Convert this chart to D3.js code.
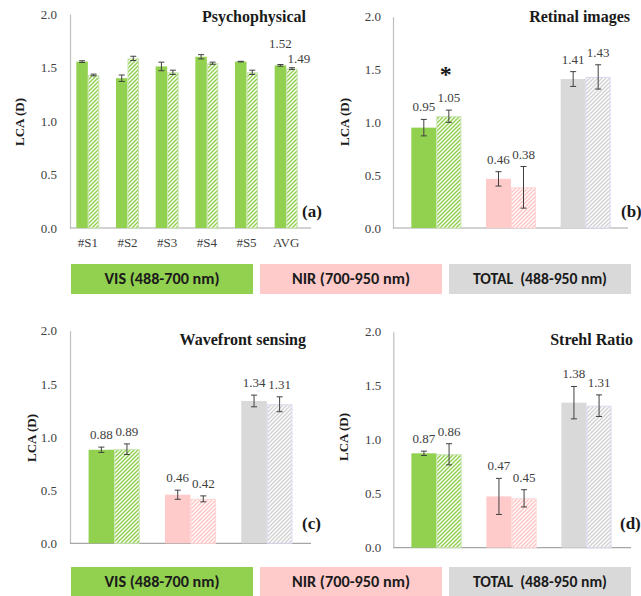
<!DOCTYPE html>
<html>
<head>
<meta charset="utf-8">
<script src="https://cdn.jsdelivr.net/npm/d3@7"></script>
<style>
  html, body { margin: 0; padding: 0; background: #fff; }
  svg { display: block; }
</style>
</head>
<body>
<svg id="chart" width="641" height="596"></svg>
<script>
// ---------- DATA ----------
const yTicks = [0, 0.5, 1.0, 1.5, 2.0];

// (a) Psychophysical
const psyCategories = ["#S1", "#S2", "#S3", "#S4", "#S5", "AVG"];
const psySolid      = [1.555, 1.40, 1.51, 1.60, 1.555, 1.52];
const psySolidErr   = [0.008, 0.03, 0.04, 0.02, 0.003, 0.008];
const psyHatch      = [1.43, 1.585, 1.455, 1.54, 1.455, 1.49];
const psyHatchErr   = [0.008, 0.02, 0.02, 0.01, 0.02, 0.008];
const psySolidLabels = ["", "", "", "", "", "1.52"];
const psyHatchLabels = ["", "", "", "", "", "1.49"];

// Spectral groups (b, c, d)
const groups = ["VIS", "NIR", "TOTAL"];

// (b) Retinal images
const retSolid     = [0.95, 0.465, 1.41];
const retSolidErr  = [0.078, 0.068, 0.07];
const retHatch     = [1.058, 0.385, 1.43];
const retHatchErr  = [0.058, 0.197, 0.115];
const retSolidLabels = ["0.95", "0.46", "1.41"];
const retHatchLabels = ["1.05", "0.38", "1.43"];

// (c) Wavefront sensing
const wfsSolid     = [0.88, 0.457, 1.339];
const wfsSolidErr  = [0.025, 0.043, 0.055];
const wfsHatch     = [0.885, 0.418, 1.308];
const wfsHatchErr  = [0.05, 0.028, 0.07];
const wfsSolidLabels = ["0.88", "0.46", "1.34"];
const wfsHatchLabels = ["0.89", "0.42", "1.31"];

// (d) Strehl Ratio
const srSolid      = [0.874, 0.475, 1.343];
const srSolidErr   = [0.02, 0.167, 0.15];
const srHatch      = [0.865, 0.457, 1.315];
const srHatchErr   = [0.098, 0.08, 0.1];
const srSolidLabels = ["0.87", "0.47", "1.38"];
const srHatchLabels = ["0.86", "0.45", "1.31"];

// Legend
const legendLabels = ["VIS (488-700 nm)", "NIR (700-950 nm)", "TOTAL  (488-950 nm)"];

// ---------- STYLE ----------
const groupColors  = { VIS: "#92D050", NIR: "#FFCACA", TOTAL: "#D9D9D9" };
const hatchLine    = { VIS: "#92D050", NIR: "#FFC4C4", TOTAL: "#D3D3D3" };
const hatchBorder  = { VIS: "#C6E3AE", NIR: "#FFD6D6", TOTAL: "#DADAF2" };
const SERIF = "'Liberation Serif', 'Times New Roman', serif";
const AXIS_COLOR = "#BFBFBF";
const TEXT_COLOR = "#404040";

const svg = d3.select("#chart");
const defs = svg.append("defs");

Object.keys(hatchLine).forEach(k => {
  const p = defs.append("pattern")
    .attr("id", "hatch-" + k)
    .attr("patternUnits", "userSpaceOnUse")
    .attr("width", 4).attr("height", 4);
  p.append("rect").attr("width", 4).attr("height", 4).attr("fill", "#fff");
  p.append("path")
    .attr("d", "M-1,1 L1,-1 M0,4 L4,0 M3,5 L5,3")
    .attr("stroke", hatchLine[k])
    .attr("stroke-width", 1.5);
});

function drawPanel(cfg) {
  const g = svg.append("g");
  const y = d3.scaleLinear().domain([0, 2]).range([cfg.y0, cfg.y2]);
  const x = d3.scaleBand().domain(cfg.categories).range(cfg.xRange)
    .paddingInner(cfg.pad).paddingOuter(cfg.pad / 2);
  const bw = x.bandwidth() / 2;

  // y axis
  const ax = g.append("g")
    .attr("transform", `translate(${cfg.axisX},0)`)
    .call(d3.axisLeft(y).tickValues(yTicks).tickFormat(d3.format(".1f"))
      .tickSize(0).tickSizeOuter(0).tickPadding(cfg.tickPad));
  ax.select(".domain").attr("stroke", AXIS_COLOR).attr("stroke-width", 1.2);
  ax.selectAll("text").attr("font-family", SERIF).attr("font-size", 13)
    .attr("fill", TEXT_COLOR);

  // baseline
  g.append("line")
    .attr("x1", cfg.axisX).attr("x2", cfg.baseEnd)
    .attr("y1", y(0)).attr("y2", y(0))
    .attr("stroke", "#A6A6A6").attr("stroke-width", 1.2);

  // bars
  const series = [
    { vals: cfg.solid, errs: cfg.solidErr, labels: cfg.solidLabels, off: 0, hatch: false },
    { vals: cfg.hatch, errs: cfg.hatchErr, labels: cfg.hatchLabels, off: 1, hatch: true }
  ];
  series.forEach(s => {
    cfg.categories.forEach((c, i) => {
      const key = cfg.colorKeys[i];
      const x0 = x(c) + s.off * bw;
      const v = s.vals[i];
      g.append("rect")
        .attr("x", x0 + (s.hatch ? 0.5 : 0))
        .attr("y", y(v) + (s.hatch ? 0.5 : 0))
        .attr("width", bw - (s.hatch ? 1 : 0))
        .attr("height", y(0) - y(v) - (s.hatch ? 0.5 : 0))
        .attr("fill", s.hatch ? `url(#hatch-${key})` : groupColors[key])
        .attr("stroke", s.hatch ? hatchBorder[key] : "none")
        .attr("stroke-width", 1);
      // error bar
      const cx = x0 + bw / 2;
      const e = s.errs[i];
      const eb = g.append("g").attr("stroke", "#404040").attr("stroke-width", 1);
      eb.append("line").attr("x1", cx).attr("x2", cx).attr("y1", y(v + e)).attr("y2", y(v - e));
      eb.append("line").attr("x1", cx - 3).attr("x2", cx + 3).attr("y1", y(v + e)).attr("y2", y(v + e));
      eb.append("line").attr("x1", cx - 3).attr("x2", cx + 3).attr("y1", y(v - e)).attr("y2", y(v - e));
      // label
      if (s.labels[i]) {
        const lo = cfg.labelOffset ? cfg.labelOffset[s.off] : { dx: 0, dy: -8 };
        g.append("text")
          .attr("x", cx + lo.dx)
          .attr("y", y(v + e) + lo.dy)
          .attr("text-anchor", "middle")
          .attr("font-family", SERIF).attr("font-size", 13)
          .attr("fill", TEXT_COLOR)
          .text(s.labels[i]);
      }
    });
  });

  // category labels
  if (cfg.showCats) {
    cfg.categories.forEach(c => {
      g.append("text")
        .attr("x", x(c) + x.bandwidth() / 2)
        .attr("y", y(0) + 19)
        .attr("text-anchor", "middle")
        .attr("font-family", SERIF).attr("font-size", 13)
        .attr("fill", TEXT_COLOR)
        .text(c);
    });
  }

  // title
  g.append("text")
    .attr("x", cfg.titleRight).attr("y", cfg.titleY)
    .attr("text-anchor", "end")
    .attr("font-family", SERIF).attr("font-size", 16).attr("font-weight", "bold")
    .attr("fill", "#1a1a1a")
    .text(cfg.title);

  // panel letter
  g.append("text")
    .attr("x", cfg.letterX).attr("y", cfg.letterY)
    .attr("font-family", SERIF).attr("font-size", 17).attr("font-weight", "bold")
    .attr("fill", "#1a1a1a")
    .text(cfg.letter);

  // y label
  g.append("text")
    .attr("transform", `translate(${cfg.ylabX},${cfg.ylabY}) rotate(-90)`)
    .attr("text-anchor", "middle")
    .attr("font-family", SERIF).attr("font-size", 13).attr("font-weight", "bold")
    .attr("fill", "#1a1a1a")
    .text("LCA (D)");

  return { x, y, bw };
}

drawPanel({
  categories: psyCategories, colorKeys: psyCategories.map(() => "VIS"),
  solid: psySolid, solidErr: psySolidErr, hatch: psyHatch, hatchErr: psyHatchErr,
  solidLabels: psySolidLabels, hatchLabels: psyHatchLabels,
  labelOffset: [{ dx: 0, dy: -17 }, { dx: 7, dy: -5 }],
  axisX: 70, y0: 228, y2: 14, xRange: [68, 306], pad: 0.42, baseEnd: 311, tickPad: 13,
  showCats: true, title: "Psychophysical", titleRight: 306, titleY: 22,
  letter: "(a)", letterX: 302, letterY: 217, ylabX: 24, ylabY: 122
});

const pb = drawPanel({
  categories: groups, colorKeys: groups,
  solid: retSolid, solidErr: retSolidErr, hatch: retHatch, hatchErr: retHatchErr,
  solidLabels: retSolidLabels, hatchLabels: retHatchLabels,
  axisX: 393, y0: 228, y2: 16.7, xRange: [399, 623], pad: 0.33, baseEnd: 628, tickPad: 12,
  showCats: false, title: "Retinal images", titleRight: 630, titleY: 22,
  letter: "(b)", letterX: 621, letterY: 217, ylabX: 349, ylabY: 122
});

// significance asterisk above VIS hatched bar (b)
svg.append("text")
  .attr("x", pb.x("VIS") + pb.bw * 1.5 - 3)
  .attr("y", pb.y(1.5) + 12)
  .attr("text-anchor", "middle")
  .attr("font-family", SERIF).attr("font-size", 24).attr("font-weight", "bold")
  .attr("fill", "#1a1a1a")
  .text("*");

drawPanel({
  categories: groups, colorKeys: groups,
  solid: wfsSolid, solidErr: wfsSolidErr, hatch: wfsHatch, hatchErr: wfsHatchErr,
  solidLabels: wfsSolidLabels, hatchLabels: wfsHatchLabels,
  axisX: 70, y0: 543.3, y2: 330.7, xRange: [76, 305], pad: 0.33, baseEnd: 311, tickPad: 13,
  showCats: false, title: "Wavefront sensing", titleRight: 306, titleY: 345,
  letter: "(c)", letterX: 302, letterY: 529, ylabX: 36, ylabY: 438
});

drawPanel({
  categories: groups, colorKeys: groups,
  solid: srSolid, solidErr: srSolidErr, hatch: srHatch, hatchErr: srHatchErr,
  solidLabels: srSolidLabels, hatchLabels: srHatchLabels,
  axisX: 393.3, y0: 547.7, y2: 331.7, xRange: [399, 624], pad: 0.33, baseEnd: 631, tickPad: 12,
  showCats: false, title: "Strehl Ratio", titleRight: 633, titleY: 345,
  letter: "(d)", letterX: 620, letterY: 529, ylabX: 348, ylabY: 437
});

// ---------- LEGENDS ----------
const legendX = d3.scaleBand().domain(groups).range([71, 631]).paddingInner(0.037).paddingOuter(0);
const legendTextLen = [115, 118, 134];
[{ top: 264, h: 30 }, { top: 567, h: 30 }].forEach(row => {
  groups.forEach((k, i) => {
    svg.append("rect")
      .attr("x", legendX(k)).attr("y", row.top)
      .attr("width", legendX.bandwidth()).attr("height", row.h)
      .attr("fill", groupColors[k]);
    svg.append("text")
      .attr("x", legendX(k) + legendX.bandwidth() / 2)
      .attr("y", row.top + row.h / 2 + 5)
      .attr("text-anchor", "middle")
      .attr("font-family", "Carlito, 'Liberation Sans Narrow', 'DejaVu Sans Condensed', 'Open Sans', sans-serif")
      .attr("font-size", 15).attr("font-weight", "bold")
      .attr("fill", "#1a1a1a")
      .attr("textLength", legendTextLen[i]).attr("lengthAdjust", "spacingAndGlyphs")
      .style("white-space", "pre")
      .text(legendLabels[i]);
  });
});
</script>
</body>
</html>
